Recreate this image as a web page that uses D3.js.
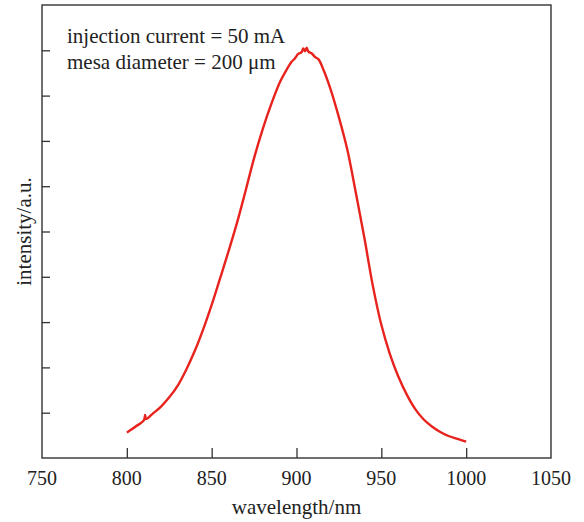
<!DOCTYPE html>
<html>
<head>
<meta charset="utf-8">
<script src="https://cdn.jsdelivr.net/npm/d3@7"></script>
<style>
  body { margin: 0; background: #fff; }
  text { font-family: "Liberation Serif", "Times New Roman", serif; fill: #222; }
</style>
</head>
<body>
<div id="plot"></div>
<script>
// spectrum (nm, a.u.)
var wavelength = [800, 805, 810, 810.8, 811.3, 815, 820, 825, 830, 835, 840, 845, 850, 855, 860, 865, 870, 875,
                  880, 885, 890, 894, 897, 899, 901, 903, 904, 905, 906, 907, 909, 911, 913, 916, 920, 925,
                  930, 935, 940, 945, 950, 955, 960, 965, 970, 975, 980, 985, 990, 995, 1000];
var intensity  = [0.56, 0.69, 0.83, 0.95, 0.86, 0.97, 1.13, 1.34, 1.60, 1.95, 2.36, 2.84, 3.38, 3.97, 4.57, 5.20, 5.90, 6.62,
                  7.25, 7.80, 8.28, 8.56, 8.74, 8.82, 8.92, 8.96, 9.04, 8.98, 9.06, 8.97, 8.93, 8.85, 8.80, 8.56, 8.15, 7.52,
                  6.80, 5.85, 4.86, 3.80, 2.94, 2.30, 1.80, 1.40, 1.08, 0.85, 0.69, 0.57, 0.48, 0.42, 0.36];
var xTicks = [800, 850, 900, 950, 1000];
var xLabels = [750, 800, 850, 900, 950, 1000, 1050];
var yTicks = [1, 2, 3, 4, 5, 6, 7, 8, 9];
var notes = ["injection current = 50 mA", "mesa diameter = 200 \u03bcm"];

var max_w = 584, max_h = 522;
var margin = {top: 5, right: 33, bottom: 64, left: 42};
var width = max_w - margin.left - margin.right;
var height = max_h - margin.top - margin.bottom;

var x = d3.scaleLinear().domain([750, 1050]).range([0, width]);
var y = d3.scaleLinear().domain([0, 10]).range([height, 0]);

var svg = d3.select("#plot").append("svg")
    .attr("width", max_w)
    .attr("height", max_h)
  .append("g")
    .attr("transform", "translate(" + margin.left + "," + margin.top + ")");

// frame
svg.append("rect")
   .attr("x", 0).attr("y", 0)
   .attr("width", width).attr("height", height)
   .attr("fill", "none")
   .attr("stroke", "#333")
   .attr("stroke-width", 1.4);

// inward ticks
svg.append("g")
   .attr("transform", "translate(0," + height + ")")
   .call(d3.axisBottom(x).tickValues(xTicks).tickSizeInner(-10).tickSizeOuter(0).tickFormat(""))
   .call(g => g.select(".domain").remove())
   .call(g => g.selectAll("line").attr("stroke", "#333").attr("stroke-width", 1.3));

svg.append("g")
   .call(d3.axisLeft(y).tickValues(yTicks).tickSizeInner(-8).tickSizeOuter(0).tickFormat(""))
   .call(g => g.select(".domain").remove())
   .call(g => g.selectAll("line").attr("stroke", "#333").attr("stroke-width", 1.3));

// tick labels
svg.append("g").selectAll("text")
   .data(xLabels)
   .enter().append("text")
   .attr("x", d => x(d))
   .attr("y", height + 27)
   .style("text-anchor", "middle")
   .style("font-size", "20px")
   .text(d => d);

svg.append("text")
   .attr("x", width / 2)
   .attr("y", height + 56)
   .style("text-anchor", "middle")
   .style("font-size", "21px")
   .text("wavelength/nm");

svg.append("text")
   .attr("transform", "rotate(-90)")
   .attr("x", -height / 2)
   .attr("y", -margin.left + 31)
   .style("text-anchor", "middle")
   .style("font-size", "21px")
   .text("intensity/a.u.");

svg.selectAll(".note")
   .data(notes)
   .enter().append("text")
   .attr("class", "note")
   .attr("x", 25)
   .attr("y", (d, i) => 38 + i * 26)
   .style("font-size", "21px")
   .text(d => d);

var xy = wavelength.map((w, i) => ({x: w, y: intensity[i]}));
svg.append("path")
   .datum(xy)
   .attr("fill", "none")
   .attr("stroke", "#e8231e")
   .attr("stroke-width", 2.4)
   .attr("stroke-linejoin", "round")
   .attr("d", d3.line()
     .x(d => x(d.x))
     .y(d => y(d.y))
     .curve(d3.curveCatmullRom.alpha(0.5)));
</script>
</body>
</html>
